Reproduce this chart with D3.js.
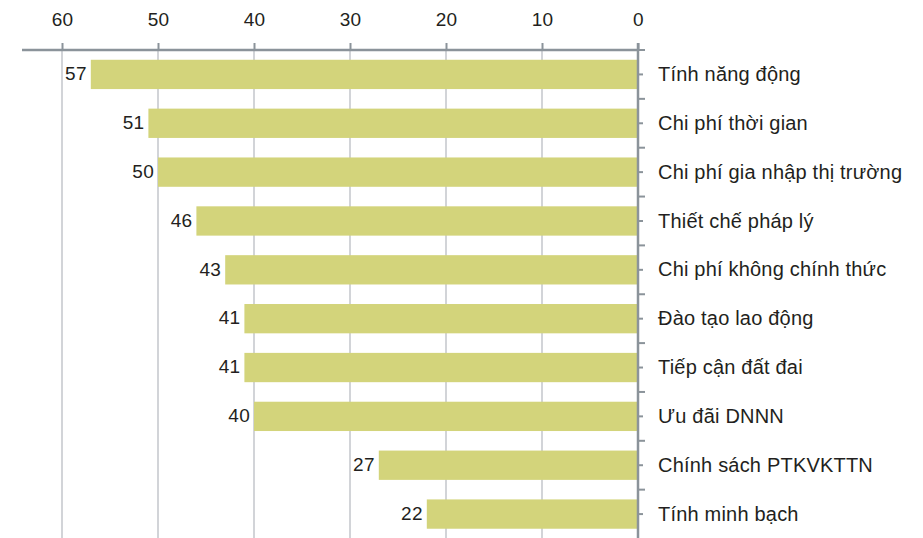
<!DOCTYPE html>
<html>
<head>
<meta charset="utf-8">
<script src="https://cdn.jsdelivr.net/npm/d3@7"></script>
<style>
  body { margin: 0; background: #fff; }
  text { font-family: "Liberation Sans", Arial, sans-serif; fill: #231f20; }
</style>
</head>
<body>
<div id="chart"></div>
<script>
// ---------- DATA ----------
var categories = ["Tính năng động", "Chi phí thời gian", "Chi phí gia nhập thị trường",
    "Thiết chế pháp lý", "Chi phí không chính thức", "Đào tạo lao động",
    "Tiếp cận đất đai", "Ưu đãi DNNN", "Chính sách PTKVKTTN", "Tính minh bạch"]
var values = [57, 51, 50, 46, 43, 41, 41, 40, 27, 22]
var tickValues = [60, 50, 40, 30, 20, 10, 0]

// ---------- CHART ----------
var width = 923, height = 538

var svg = d3.select('#chart').append('svg')
    .attr('width', width)
    .attr('height', height)

var x = d3.scaleLinear().domain([60, 0]).range([62, 638])
var y = d3.scaleBand().domain(categories).range([50, 538.5]).paddingInner(0.4).paddingOuter(0.2)
var yb = d3.scaleBand().domain(categories).range([50, 538.5])

// gridlines
svg.selectAll('.grid')
    .data(tickValues.filter(function(d){ return d != 0 }))
    .enter()
    .append('line')
        .attr('x1', function(d){ return x(d) })
        .attr('x2', function(d){ return x(d) })
        .attr('y1', 50)
        .attr('y2', height)
        .style('stroke', '#d2d4d8')
        .style('stroke-width', 2)

// bars
svg.selectAll('.bar')
    .data(values)
    .enter()
    .append('rect')
        .attr('x', function(d){ return x(d) })
        .attr('y', function(d,i){ return y(categories[i]) })
        .attr('width', function(d){ return x(0) - x(d) })
        .attr('height', y.bandwidth())
        .style('fill', '#d3d47b')

// value labels
svg.selectAll('.val')
    .data(values)
    .enter()
    .append('text')
        .attr('x', function(d){ return x(d) - 4 })
        .attr('y', function(d,i){ return y(categories[i]) + y.bandwidth() / 2 })
        .attr('dy', '0.3em')
        .attr('text-anchor', 'end')
        .style('font-size', '19px')
        .style('letter-spacing', '0.3px')
        .text(function(d){ return d })

// top axis
var xAxis = d3.axisTop(x).tickValues(tickValues).tickSize(7).tickPadding(17)
var gx = svg.append('g')
    .attr('transform', 'translate(0,50)')
    .call(xAxis)
gx.select('.domain').remove()
gx.selectAll('.tick line').style('stroke', '#8b939a').style('stroke-width', 2)
gx.selectAll('.tick text').style('font-size', '19px').style('fill', '#231f20')
    .style('font-family', '"Liberation Sans", Arial, sans-serif').style('letter-spacing', '0.3px')
gx.append('line')
    .attr('x1', 22).attr('x2', 639)
    .attr('y1', 0).attr('y2', 0)
    .style('stroke', '#8b939a').style('stroke-width', 2.5)

// vertical axis at 0 with ticks
svg.append('line')
    .attr('x1', x(0)).attr('x2', x(0))
    .attr('y1', 43).attr('y2', height)
    .style('stroke', '#8b939a').style('stroke-width', 2.5)

svg.selectAll('.majtick')
    .data(categories)
    .enter()
    .append('line')
        .attr('x1', x(0)).attr('x2', x(0) + 7)
        .attr('y1', function(d){ return yb(d) })
        .attr('y2', function(d){ return yb(d) })
        .style('stroke', '#8b939a').style('stroke-width', 2)

svg.selectAll('.mintick')
    .data(categories)
    .enter()
    .append('line')
        .attr('x1', x(0)).attr('x2', x(0) + 5)
        .attr('y1', function(d){ return yb(d) + yb.bandwidth() / 2 })
        .attr('y2', function(d){ return yb(d) + yb.bandwidth() / 2 })
        .style('stroke', '#8b939a').style('stroke-width', 2)

// category labels
svg.selectAll('.cat')
    .data(categories)
    .enter()
    .append('text')
        .attr('x', 658)
        .attr('y', function(d){ return yb(d) + yb.bandwidth() / 2 })
        .attr('dy', '0.33em')
        .style('font-size', '20px')
        .style('letter-spacing', '0.2px')
        .text(function(d){ return d })
</script>
</body>
</html>
